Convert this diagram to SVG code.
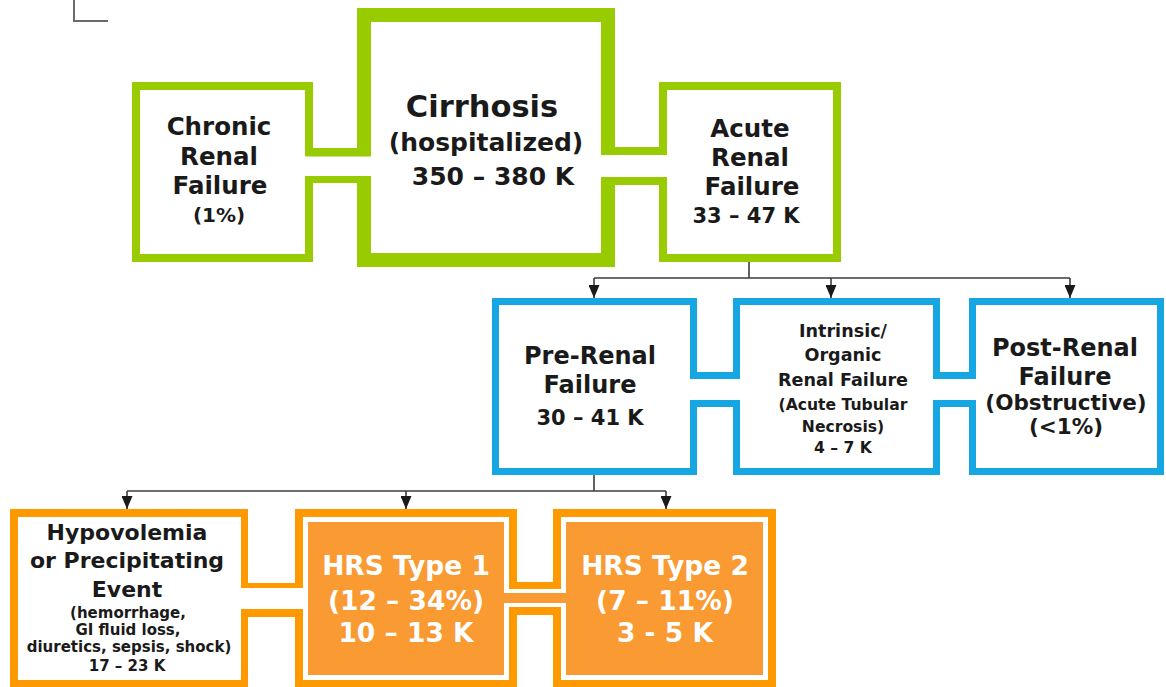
<svg xmlns="http://www.w3.org/2000/svg" width="1166" height="687" viewBox="0 0 1166 687">
<defs>
<style>
.t{font-family:"DejaVu Sans","Open Sans","Liberation Sans",sans-serif;font-weight:700;fill:#1a1a1a;text-anchor:middle}
.w{fill:#ffffff}
.g{fill:#ffffff;stroke:#99CC00}
.b{fill:#ffffff;stroke:#16A6E1;stroke-width:7}
.ob{fill:#FF9900}
.of{fill:#F99A33}
.wh{fill:#ffffff}
.gf{fill:#99CC00}
.bf{fill:#16A6E1}
.c{fill:none;stroke:#3c3c3c;stroke-width:1.6}
</style>
<marker id="ah" viewBox="0 0 13 11" refX="13" refY="5.5" markerWidth="13" markerHeight="11" markerUnits="userSpaceOnUse" orient="auto">
<path d="M0,0 L13,5.5 L0,11 Z" fill="#1a1a1a"/>
</marker>
</defs>
<rect width="1166" height="687" fill="#ffffff"/>
<path d="M74,0 V21 H108" fill="none" stroke="#6a6a6a" stroke-width="2"/>

<g id="connectors">
<path class="c" d="M749,262 V278 M594,278 H1070"/>
<path class="c" d="M594,278 V298" marker-end="url(#ah)"/>
<path class="c" d="M831,278 V298" marker-end="url(#ah)"/>
<path class="c" d="M1070,278 V298" marker-end="url(#ah)"/>
<path class="c" d="M594,475 V491 M127,491 H666"/>
<path class="c" d="M127,491 V509" marker-end="url(#ah)"/>
<path class="c" d="M406,491 V509" marker-end="url(#ah)"/>
<path class="c" d="M666,491 V509" marker-end="url(#ah)"/>
</g>

<g id="chronic">
<rect class="g" x="136" y="86" width="173" height="172" stroke-width="8"/>
<text class="t" font-size="24.5"><tspan x="219" y="135">Chronic</tspan><tspan x="219" y="165">Renal</tspan><tspan x="220" y="194">Failure</tspan><tspan x="219" y="222" font-size="20">(1%)</tspan></text>
</g>
<g id="cirrhosis">
<rect class="g" x="364" y="15" width="244" height="245" stroke-width="14"/>
<text class="t"><tspan x="482" y="117" font-size="30.5">Cirrhosis</tspan><tspan x="486" y="151" font-size="25">(hospitalized)</tspan><tspan x="493" y="185" font-size="25">350 – 380 K</tspan></text>
</g>
<g id="acute">
<rect class="g" x="663" y="86" width="174" height="172" stroke-width="8"/>
<text class="t" font-size="24.5"><tspan x="750" y="137">Acute</tspan><tspan x="750" y="166">Renal</tspan><tspan x="752" y="195">Failure</tspan><tspan x="746" y="223" font-size="21">33 – 47 K</tspan></text>
</g>
<g id="bridge-green">
<rect class="gf" x="313" y="148" width="44" height="35"/>
<rect class="wh" x="305" y="156.5" width="66" height="19.5"/>
<rect class="gf" x="615" y="147" width="44" height="38"/>
<rect class="wh" x="601" y="155" width="66" height="22"/>
</g>

<g id="pre-renal">
<rect class="b" x="495.5" y="301.5" width="198" height="170"/>
<text class="t" font-size="24"><tspan x="590" y="364">Pre-Renal</tspan><tspan x="590" y="393">Failure</tspan><tspan x="590" y="425" font-size="21">30 – 41 K</tspan></text>
</g>
<g id="intrinsic">
<rect class="b" x="736.5" y="301.5" width="200" height="170"/>
<text class="t" font-size="17.6"><tspan x="843" y="337">Intrinsic/</tspan><tspan x="843" y="361">Organic</tspan><tspan x="843" y="386">Renal Failure</tspan><tspan x="843" y="410" font-size="15.6">(Acute Tubular</tspan><tspan x="843" y="432" font-size="15.6">Necrosis)</tspan><tspan x="843" y="453" font-size="15.6">4 – 7 K</tspan></text>
</g>
<g id="post-renal">
<rect class="b" x="972.5" y="301.5" width="188" height="170"/>
<text class="t" font-size="24"><tspan x="1065" y="356">Post-Renal</tspan><tspan x="1065" y="385">Failure</tspan><tspan x="1066" y="410" font-size="21.5">(Obstructive)</tspan><tspan x="1066" y="434" font-size="21.5">(&lt;1%)</tspan></text>
</g>
<g id="bridge-blue">
<rect class="bf" x="697" y="372" width="36" height="35"/>
<rect class="wh" x="690" y="379" width="50" height="21"/>
<rect class="bf" x="940" y="372" width="29" height="35"/>
<rect class="wh" x="933" y="379" width="43" height="21"/>
</g>

<g id="orange-base">
<rect class="ob" x="10" y="509" width="238" height="180"/>
<rect class="ob" x="295" y="509" width="222" height="180"/>
<rect class="ob" x="553" y="509" width="223" height="180"/>
<rect class="ob" x="246" y="583" width="51" height="34"/>
<rect class="ob" x="515" y="582" width="40" height="33"/>
<rect class="wh" x="18" y="517" width="223" height="163"/>
<rect class="wh" x="303" y="517" width="206" height="163"/>
<rect class="wh" x="561" y="517" width="207" height="163"/>
<rect class="wh" x="240" y="588" width="65" height="21"/>
<rect class="wh" x="508" y="589" width="54" height="18"/>
<rect class="of" x="308" y="522" width="196" height="153"/>
<rect class="of" x="566" y="522" width="197" height="153"/>
<rect class="of" x="503" y="593" width="64" height="10"/>
</g>
<g id="hypovolemia">
<text class="t"><tspan x="127" y="540" font-size="22">Hypovolemia</tspan><tspan x="127" y="568" font-size="22">or Precipitating</tspan><tspan x="127" y="597" font-size="22">Event</tspan><tspan x="128" y="618" font-size="15">(hemorrhage,</tspan><tspan x="128" y="635" font-size="15">GI fluid loss,</tspan><tspan x="129" y="652" font-size="15">diuretics, sepsis, shock)</tspan><tspan x="127" y="671" font-size="15">17 – 23 K</tspan></text>
</g>
<g id="hrs1">
<text class="t w" font-size="26.5"><tspan x="406" y="575">HRS Type 1</tspan><tspan x="406" y="610">(12 – 34%)</tspan><tspan x="406" y="642">10 – 13 K</tspan></text>
</g>
<g id="hrs2">
<text class="t w" font-size="26.5"><tspan x="665" y="575">HRS Type 2</tspan><tspan x="665" y="610">(7 – 11%)</tspan><tspan x="665" y="642">3 - 5 K</tspan></text>
</g>
</svg>
